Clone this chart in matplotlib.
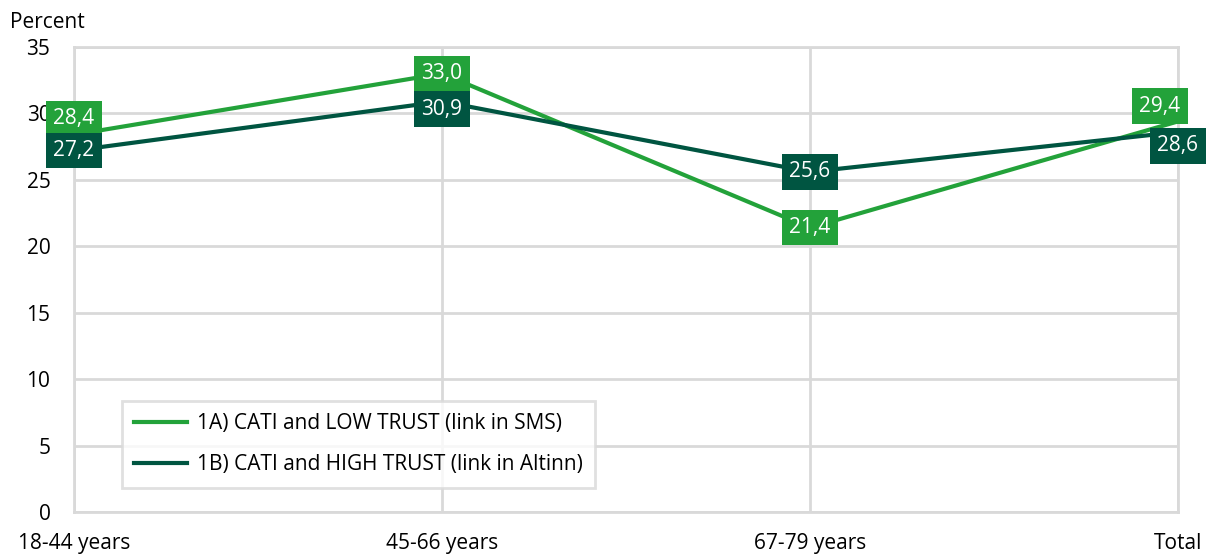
import matplotlib.pyplot as plt

plt.rcParams['font.family'] = ['Open Sans', 'DejaVu Sans']

# data
categories = ['18-44 years', '45-66 years', '67-79 years', 'Total']
low_trust = [28.4, 33.0, 21.4, 29.4]
high_trust = [27.2, 30.9, 25.6, 28.6]
series_names = ['1A) CATI and LOW TRUST (link in SMS)', '1B) CATI and HIGH TRUST (link in Altinn)']
yticks = [0, 5, 10, 15, 20, 25, 30, 35]

light = '#23a23a'
dark = '#005541'
grid = '#d9d9d9'

fig = plt.figure(figsize=(12.1, 5.57), dpi=100)
ax = fig.add_axes([74 / 1210, 1 - 512 / 557, (1178 - 74) / 1210, (512 - 47) / 557])

x = list(range(len(categories)))
ax.plot(x, low_trust, color=light, lw=3, label=series_names[0], clip_on=False, zorder=3)
ax.plot(x, high_trust, color=dark, lw=3, label=series_names[1], clip_on=False, zorder=3)

# value labels (offsets in points, to keep boxes from overlapping)
low_off = [(0, 11.5), (0, 0), (0, 0), (-13, 11)]
high_off = [(0, 0), (0, -5.5), (0, 0), (0, -10)]
for vals, offs, col in [(low_trust, low_off, light), (high_trust, high_off, dark)]:
    for xi, v, (dx, dy) in zip(x, vals, offs):
        ax.annotate(f'{v:.1f}'.replace('.', ','), (xi, v), xytext=(dx, dy),
                    textcoords='offset points', ha='center', va='center',
                    color='white', fontsize=15, zorder=5, annotation_clip=False,
                    bbox=dict(boxstyle='square,pad=0.35', fc=col, ec='none'))

ax.set_xlim(0, 3)
ax.set_ylim(0, 35)
ax.set_xticks(x)
ax.set_xticklabels(categories, fontsize=15)
ax.set_yticks(yticks)
ax.set_yticklabels([str(t) for t in yticks], fontsize=15)
ax.tick_params(length=0)
ax.tick_params(axis='y', pad=17)
ax.tick_params(axis='x', pad=15)
ax.grid(True, color=grid, lw=2)
ax.set_axisbelow(True)
for s in ax.spines.values():
    s.set_color(grid)
    s.set_linewidth(2)

fig.text(10 / 1210, 1 - 22 / 557, 'Percent', fontsize=15, va='center', ha='left')

leg = ax.legend(loc='lower left', bbox_to_anchor=(0.034, 0.03), fontsize=15,
                frameon=True, fancybox=False, handlelength=2.5, handletextpad=0.5,
                borderpad=0.6, labelspacing=0.95)
leg.get_frame().set_edgecolor(grid)
leg.get_frame().set_linewidth(2)

plt.savefig('out.png', dpi=100)
